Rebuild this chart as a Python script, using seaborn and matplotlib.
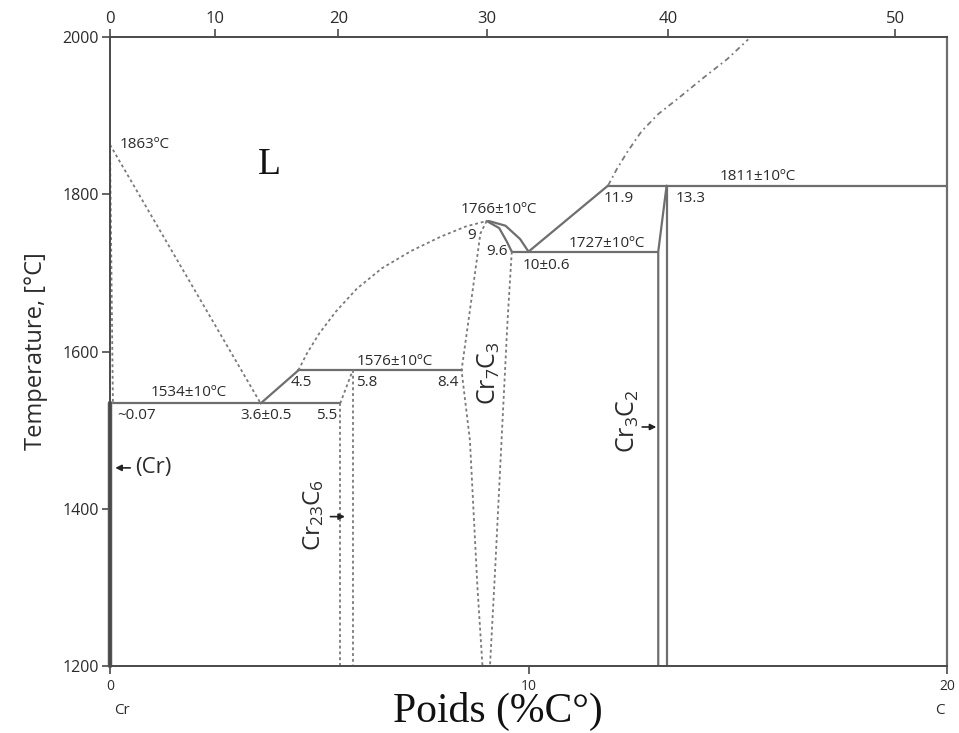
import numpy as np
import matplotlib
matplotlib.use("Agg")
import matplotlib.pyplot as plt
import seaborn as sns

# Cr–C binary system: compositions in wt% C, temperatures in °C
t_min, t_max = 1200, 2000
w_min, w_max = 0, 20

liquidus_cr_w = [0.0, 3.6]
liquidus_cr_t = [1863, 1534]

solidus_cr_w = [0.0, 0.07]
solidus_cr_t = [1863, 1534]

cr_phase_w = [0.0, 0.0]
cr_phase_t = [1200, 1534]

eutectic1_w = [0.07, 5.5]
eutectic1_t = [1534, 1534]

liq_rise_w = [3.6, 4.5]
liq_rise_t = [1534, 1576]

peritectic_w = [4.5, 8.4]
peritectic_t = [1576, 1576]

liquidus_c7_w = [4.5, 4.7, 5.0, 5.4, 5.9, 6.5, 7.2, 7.9, 8.5, 9.0]
liquidus_c7_t = [1576, 1597, 1623, 1651, 1680, 1706, 1728, 1746, 1759, 1766]

cr23_upper_w = [5.5, 5.8]
cr23_upper_t = [1534, 1576]
cr23_left_w = [5.5, 5.5]
cr23_left_t = [1534, 1200]
cr23_right_w = [5.8, 5.8]
cr23_right_t = [1576, 1200]

cr7_left_w = [9.0, 8.85, 8.62, 8.4, 8.6, 8.78, 8.9]
cr7_left_t = [1766, 1750, 1660, 1576, 1487, 1300, 1200]
cr7_right_w = [9.6, 9.5, 9.38, 9.2, 9.08]
cr7_right_t = [1727, 1640, 1513, 1320, 1200]

cr7_solidus_w = [9.0, 9.3, 9.48, 9.6]
cr7_solidus_t = [1766, 1757, 1740, 1727]
cr7_liquidus_w = [9.05, 9.45, 9.8, 10.0]
cr7_liquidus_t = [1766, 1760, 1743, 1727]

eutectic2_w = [9.6, 13.1]
eutectic2_t = [1727, 1727]

liq_cr3_w = [10.0, 11.9]
liq_cr3_t = [1727, 1811]

eutectic3_w = [11.9, 20.0]
eutectic3_t = [1811, 1811]

cr3_left_w = [13.1, 13.1, 13.3]
cr3_left_t = [1200, 1727, 1811]
cr3_right_w = [13.3, 13.3]
cr3_right_t = [1811, 1200]

liquidus_c_w = [11.9, 12.1, 12.35, 12.7, 13.1, 13.6, 14.2, 14.75, 15.25]
liquidus_c_t = [1811, 1831, 1853, 1880, 1902, 1923, 1949, 1972, 1997]

top_ticks_at = [0, 10, 20, 30, 40, 50]
bottom_ticks_wt = [0, 10, 20]
left_ticks_t = [1200, 1400, 1600, 1800, 2000]

M_C, M_CR = 12.011, 51.996


def wt_to_at(w):
    w = np.asarray(w, dtype=float)
    with np.errstate(divide="ignore", invalid="ignore"):
        nc = w / M_C
        ncr = (100 - w) / M_CR
        return 100 * nc / (nc + ncr)


def at_to_wt(a):
    a = np.asarray(a, dtype=float)
    with np.errstate(divide="ignore", invalid="ignore"):
        mc = a * M_C
        mcr = (100 - a) * M_CR
        return 100 * mc / (mc + mcr)


sns.set_theme(style="white")
plt.rcParams["font.family"] = ["Open Sans", "DejaVu Sans"]
plt.rcParams["mathtext.default"] = "regular"

LINE = "#6e6e6e"
DOT = "#7a7a7a"
AXC = "#4a4a4a"
TXT = "#2b2b2b"

fig = plt.figure(figsize=(9.59, 7.33), dpi=100)
ax = fig.add_axes([0.1147, 0.0914, 0.8728, 0.8581])

solid = dict(color=LINE, lw=1.6)
dotted = dict(color=DOT, lw=1.3, linestyle=(0, (1.6, 1.6)))
dashdot = dict(color=DOT, lw=1.3, linestyle=(0, (3.0, 2.0, 1.0, 2.0)))


def curve(w, t, **kw):
    sns.lineplot(x=w, y=t, sort=False, estimator=None, ax=ax, **kw)


# solid phase boundaries
curve(cr_phase_w, cr_phase_t, color="#555555", lw=3.2, clip_on=False)
curve(eutectic1_w, eutectic1_t, **solid)
curve(liq_rise_w, liq_rise_t, **solid)
curve(peritectic_w, peritectic_t, **solid)
curve(cr7_solidus_w, cr7_solidus_t, **solid)
curve(cr7_liquidus_w, cr7_liquidus_t, **solid)
curve(eutectic2_w, eutectic2_t, **solid)
curve(liq_cr3_w, liq_cr3_t, **solid)
curve(eutectic3_w, eutectic3_t, **solid)
curve(cr3_left_w, cr3_left_t, **solid)
curve(cr3_right_w, cr3_right_t, **solid)

# estimated (dotted) boundaries
curve(liquidus_cr_w, liquidus_cr_t, **dotted)
curve(solidus_cr_w, solidus_cr_t, **dotted)
curve(liquidus_c7_w, liquidus_c7_t, **dotted)
curve(cr23_upper_w, cr23_upper_t, **dotted)
curve(cr23_left_w, cr23_left_t, **dotted)
curve(cr23_right_w, cr23_right_t, **dotted)
curve(cr7_left_w, cr7_left_t, **dotted)
curve(cr7_right_w, cr7_right_t, **dotted)
curve(liquidus_c_w, liquidus_c_t, **dashdot)

ax.set_xlim(w_min, w_max)
ax.set_ylim(t_min, t_max)

for side in ["left", "top", "bottom"]:
    ax.spines[side].set_color(AXC)
    ax.spines[side].set_linewidth(1.4)
ax.spines["right"].set_color(LINE)
ax.spines["right"].set_linewidth(1.6)

ax.set_yticks(left_ticks_t)
ax.set_xticks(bottom_ticks_wt)
ax.tick_params(axis="y", left=True, direction="out", length=6, width=1.2,
               color=AXC, labelsize=11.5, labelcolor=TXT, pad=2)
ax.tick_params(axis="x", bottom=True, direction="out", length=6, width=1.2,
               color=AXC, labelsize=10, labelcolor=TXT, pad=3)

sec = ax.secondary_xaxis("top", functions=(wt_to_at, at_to_wt))
sec.set_xticks(top_ticks_at)
sec.tick_params(axis="x", top=True, direction="out", length=6, width=1.2,
                color=AXC, labelsize=12, labelcolor=TXT, pad=1)
sec.spines["top"].set_visible(False)

ax.set_xlabel("")
ax.set_ylabel("Temperature, [°C]", fontsize=17, color=TXT, labelpad=10)

fig.text(0.519, 0.029, "Poids (%C°)", family="Liberation Serif", fontsize=30,
         color="#111111", ha="center", va="center")
fig.text(122 / 959, 1 - 710 / 733, "Cr", fontsize=11, color=TXT,
         ha="center", va="center")
fig.text(940 / 959, 1 - 710 / 733, "C", fontsize=11, color=TXT,
         ha="center", va="center")

# phase and invariant labels
lab = dict(fontsize=11, color=TXT)
ax.text(0.22, solidus_cr_t[0], f"{solidus_cr_t[0]}ºC", ha="left", va="center", **lab)
ax.text(3.82, 1838, "L", family="Liberation Serif", fontsize=27,
        color="#111111", ha="center", va="center")
ax.text(1.87, eutectic1_t[0] + 14, f"{eutectic1_t[0]}±10ºC", ha="center", va="center", **lab)
ax.text(0.18, eutectic1_t[0] - 15, f"~{solidus_cr_w[1]}", ha="left", va="center", **lab)
ax.text(3.73, eutectic1_t[0] - 15, f"{liquidus_cr_w[1]}±0.5", ha="center", va="center", **lab)
ax.text(5.42, eutectic1_t[0] - 15, f"{eutectic1_w[1]}", ha="right", va="center", **lab)
ax.text(4.58, peritectic_t[0] - 16, f"{peritectic_w[0]}", ha="center", va="center", **lab)
ax.text(5.88, peritectic_t[0] - 16, f"{cr23_right_w[0]}", ha="left", va="center", **lab)
ax.text(6.8, peritectic_t[0] + 11, f"{peritectic_t[0]}±10ºC", ha="center", va="center", **lab)
ax.text(8.33, peritectic_t[0] - 16, f"{peritectic_w[1]}", ha="right", va="center", **lab)
ax.text(9.28, cr7_solidus_t[0] + 15, f"{cr7_solidus_t[0]}±10ºC", ha="center", va="center", **lab)
ax.text(8.65, 1748, f"{cr7_left_w[0]:g}", ha="center", va="center", **lab)
ax.text(9.5, eutectic2_t[0], f"{cr7_right_w[0]}", ha="right", va="center", **lab)
ax.text(10.42, eutectic2_t[0] - 17, f"{liq_cr3_w[0]:g}±0.6", ha="center", va="center", **lab)
ax.text(11.88, eutectic2_t[0] + 11, f"{eutectic2_t[0]}±10ºC", ha="center", va="center", **lab)
ax.text(12.16, eutectic3_t[0] - 16, f"{eutectic3_w[0]}", ha="center", va="center", **lab)
ax.text(13.52, eutectic3_t[0] - 16, f"{cr3_right_w[0]}", ha="left", va="center", **lab)
ax.text(15.49, eutectic3_t[0] + 11, f"{eutectic3_t[0]}±10ºC", ha="center", va="center", **lab)

arrow = dict(arrowstyle="-|>", color="#222222", lw=1.2, mutation_scale=9)
ax.annotate("", xy=(0.06, 1452), xytext=(0.55, 1452), arrowprops=arrow)
ax.text(0.6, 1452, "(Cr)", fontsize=16, color=TXT, ha="left", va="center")

ax.annotate("", xy=(5.68, 1390), xytext=(5.2, 1390), arrowprops=arrow)
ax.text(4.87, 1392, r"Cr$_{23}$C$_{6}$", fontsize=17.5, color=TXT, rotation=90,
        ha="center", va="center")

ax.text(9.05, 1573, r"Cr$_{7}$C$_{3}$", fontsize=18, color=TXT, rotation=90,
        ha="center", va="center")

ax.annotate("", xy=(13.12, 1504), xytext=(12.65, 1504), arrowprops=arrow)
ax.text(12.38, 1512, r"Cr$_{3}$C$_{2}$", fontsize=18, color=TXT, rotation=90,
        ha="center", va="center")

fig.savefig("out.png", dpi=100, facecolor="white")
